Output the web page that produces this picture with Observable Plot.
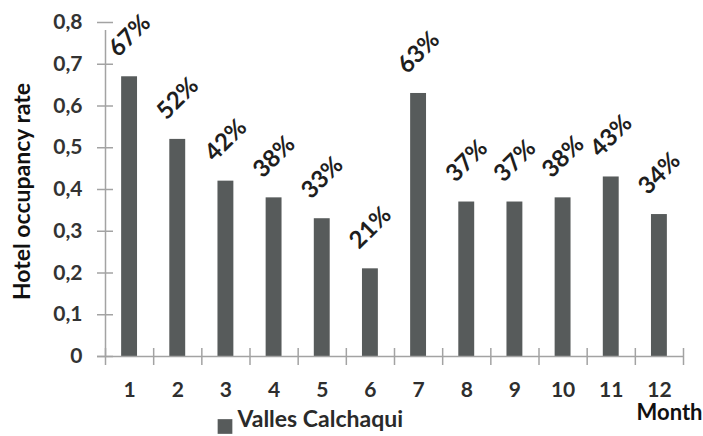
<!DOCTYPE html>
<html>
<head>
<meta charset="utf-8">
<script src="https://cdn.jsdelivr.net/npm/d3@7"></script>
<script src="https://cdn.jsdelivr.net/npm/@observablehq/plot@0.6"></script>
<style>
  html, body { margin: 0; padding: 0; background: #fff; }
  #chart svg { display: block; font-family: Lato, "Open Sans", sans-serif; }
</style>
</head>
<body>
<div id="chart"></div>
<script>
// Monthly hotel occupancy rate, Valles Calchaquí
const months = [1, 2, 3, 4, 5, 6, 7, 8, 9, 10, 11, 12];
const rates = [0.67, 0.52, 0.42, 0.38, 0.33, 0.21, 0.63, 0.37, 0.37, 0.38, 0.43, 0.34];
const yTicks = [0, 0.1, 0.2, 0.3, 0.4, 0.5, 0.6, 0.7, 0.8];
const yTickLabels = ["0", "0,1", "0,2", "0,3", "0,4", "0,5", "0,6", "0,7", "0,8"];
const seriesName = "Valles Calchaqui";

const data = months.map((m, i) => ({month: m, rate: rates[i]}));
const boundaries = d3.range(0.5, months.length + 1, 1);
const half = 0.165; // half bar width, in month units

const barColor = "#575b5b";
const axisColor = "#a3a3a3";

const chart = Plot.plot({
  width: 703,
  height: 436,
  marginTop: 22,
  marginLeft: 105,
  marginRight: 20,
  marginBottom: 80,
  x: {domain: [0.5, 12.5], axis: null},
  y: {domain: [0, 0.8], axis: null},
  marks: [
    // bars
    Plot.rectY(data, {x1: d => d.month - half, x2: d => d.month + half, y: "rate", fill: barColor}),
    // axis lines
    Plot.ruleX([0.5], {y1: 0, y2: 0.8, stroke: axisColor, strokeWidth: 1.5, insetBottom: -8}),
    Plot.ruleY([0], {x1: 0.5, x2: 12.5, stroke: axisColor, strokeWidth: 1.5, insetLeft: -8}),
    // crossing tick marks
    Plot.ruleY(yTicks, {x1: 0.5, x2: 0.5, stroke: axisColor, strokeWidth: 1.5, insetLeft: -8, insetRight: -8}),
    Plot.ruleX(boundaries, {y1: 0, y2: 0, stroke: axisColor, strokeWidth: 1.5, insetTop: -8, insetBottom: -9}),
    // y tick labels
    Plot.text(yTicks, {
      x: 0.5, y: d => d, text: (d, i) => yTickLabels[i],
      textAnchor: "end", dx: -23, fontSize: 21, fontWeight: "bold", fill: "#333"
    }),
    // x tick labels
    Plot.text(months, {
      x: d => d, y: 0, text: d => String(d),
      dy: 34, fontSize: 21, fontWeight: "bold", fill: "#2e2e2e"
    }),
    // value labels
    Plot.text(data, {
      x: "month", y: "rate", text: d => d3.format(".0%")(d.rate),
      rotate: -45, dy: -41, fontSize: 24, fontWeight: "bold", fill: "#1e1e1e"
    }),
    // y axis title
    Plot.text(["Hotel occupancy rate"], {
      frameAnchor: "left", textAnchor: "middle", rotate: -90, dx: -83, dy: 2,
      fontSize: 23, fontWeight: "bold", fill: "#111"
    }),
    // x axis title
    Plot.text(["Month"], {
      frameAnchor: "bottom-right", textAnchor: "end", dx: 19, dy: 63,
      fontSize: 22, fontWeight: "bold", fill: "#111"
    }),
    // legend
    Plot.dot([seriesName], {
      frameAnchor: "bottom-left", symbol: "square", r: 8.3, fill: barColor, dx: 119.5, dy: 70
    }),
    Plot.text([seriesName], {
      frameAnchor: "bottom-left", textAnchor: "start", dx: 132, dy: 70,
      fontSize: 23, fontWeight: "bold", letterSpacing: "1.8px", fill: "#2a2a2a"
    })
  ]
});

document.getElementById("chart").append(chart);
</script>
</body>
</html>
